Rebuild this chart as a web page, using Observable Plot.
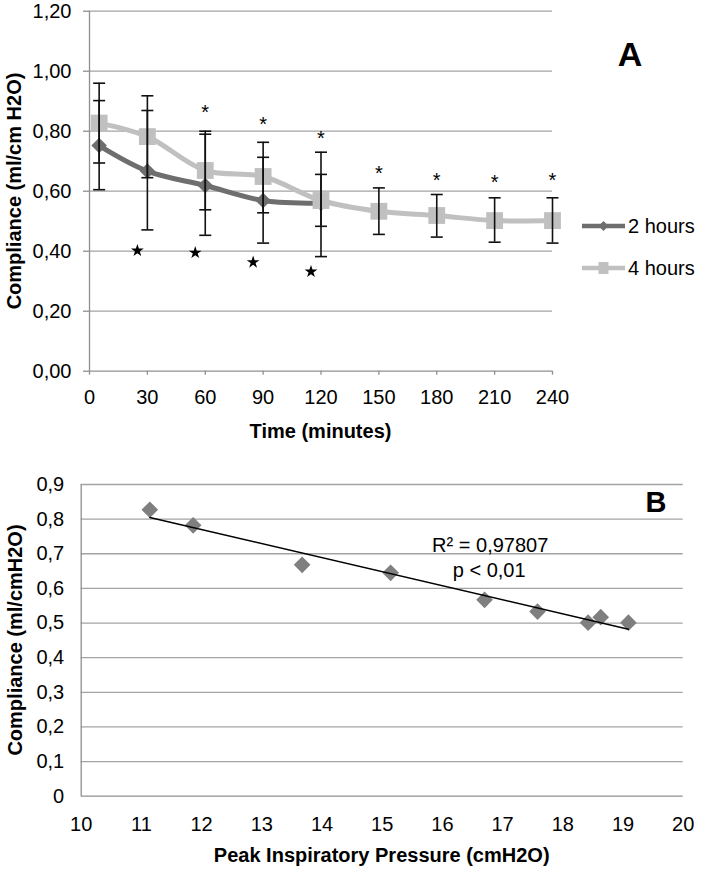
<!DOCTYPE html>
<html>
<head>
<meta charset="utf-8">
<script src="https://cdn.jsdelivr.net/npm/d3@7"></script>
<script src="https://cdn.jsdelivr.net/npm/@observablehq/plot@0.6"></script>
<style>
  body { margin: 0; background: #fff; }
  #wrap { position: relative; width: 702px; height: 871px; font-family: "Liberation Sans", Arial, sans-serif; color: #000; overflow: hidden; }
  #wrap > svg { position: absolute; left: 0; }
  .abs { position: absolute; white-space: nowrap; line-height: 1; }
  .ttl { font-weight: bold; font-size: 20px; }
</style>
</head>
<body>
<div id="wrap"></div>
<script>
// ---------- Panel A data ----------
const times = [5, 30, 60, 90, 120, 150, 180, 210, 240];
const twoHoursMean = [0.752, 0.667, 0.619, 0.569, 0.560];
const twoHoursHigh = [0.902, 0.869, 0.790, 0.713, 0.656];
const twoHoursLow  = [0.605, 0.471, 0.453, 0.427, 0.382];
const fourHoursMean = [0.827, 0.782, 0.669, 0.649, 0.569, 0.533, 0.519, 0.502, 0.502];
const fourHoursHigh = [0.960, 0.918, 0.800, 0.763, 0.730, 0.611, 0.589, 0.578, 0.578];
const fourHoursLow  = [0.694, 0.645, 0.538, 0.528, 0.483, 0.456, 0.447, 0.430, 0.427];
const sigTimes = [60, 90, 120, 150, 180, 210, 240];
const sigMarkY = [0.880, 0.838, 0.793, 0.674, 0.652, 0.647, 0.652];
const starTimes = [30, 60, 90, 120];
const starMarkY = [0.402, 0.395, 0.363, 0.332];
const xTicksA = [0, 30, 60, 90, 120, 150, 180, 210, 240];
const yTicksA = [0, 0.2, 0.4, 0.6, 0.8, 1.0, 1.2];
const seriesNames = ["2 hours", "4 hours"];

// ---------- Panel B data ----------
const pipB = [11.14, 11.86, 13.67, 15.14, 16.70, 17.58, 18.63, 18.42, 19.09];
const complianceB = [0.827, 0.782, 0.668, 0.645, 0.567, 0.533, 0.517, 0.501, 0.501];
const xTicksB = [10, 11, 12, 13, 14, 15, 16, 17, 18, 19, 20];
const yTicksB = [0, 0.1, 0.2, 0.3, 0.4, 0.5, 0.6, 0.7, 0.8, 0.9];
const r2Text = "R² = 0,97807";
const pText = "p < 0,01";

// ---------- styling ----------
const FONT = '"Liberation Sans", Arial, sans-serif';
const GRID = "#a3a3a3";
const AXIS = "#8f8f8f";
const DARK = "#6e6e6e";
const LIGHT = "#c0c0c0";
const DIAMOND_B = "#7f7f7f";

const twoRows = twoHoursMean.map((v, i) => ({t: times[i], v, hi: twoHoursHigh[i], lo: twoHoursLow[i]}));
const fourRows = fourHoursMean.map((v, i) => ({t: times[i], v, hi: fourHoursHigh[i], lo: fourHoursLow[i]}));
const errRows = [...twoRows, ...fourRows];
const sigRows = sigTimes.map((t, i) => ({t, y: sigMarkY[i]}));
const starRows = starTimes.map((t, i) => ({t, y: starMarkY[i]}));
const bRows = pipB.map((x, i) => ({x, y: complianceB[i]}));

const capSymbol = {
  draw(ctx, size) {
    const w = Math.sqrt(size / Math.PI);
    ctx.moveTo(-w, 0);
    ctx.lineTo(w, 0);
  }
};

const fmtA = d => d.toFixed(2).replace(".", ",");
const fmtB = d => d === 0 ? "0" : d.toFixed(1).replace(".", ",");

const plotA = Plot.plot({
  width: 702,
  height: 440,
  marginLeft: 89,
  marginRight: 150,
  marginTop: 10.7,
  marginBottom: 69.3,
  style: {fontFamily: FONT, fontSize: "20px", color: "#000", background: "transparent"},
  x: {domain: [0, 240]},
  y: {domain: [0, 1.2]},
  marks: [
    Plot.ruleY(yTicksA.filter(d => d > 0), {stroke: GRID, strokeWidth: 1.3}),
    Plot.axisY({ticks: yTicksA, tickFormat: fmtA, tickSize: 6, tickPadding: 12, stroke: AXIS, fill: "#000", label: null, strokeWidth: 1.3}),
    Plot.axisX({ticks: xTicksA, tickFormat: d => String(d), tickSize: 4, tickPadding: 15, stroke: AXIS, fill: "#000", label: null, strokeWidth: 1.3}),
    Plot.ruleX([0], {stroke: AXIS, strokeWidth: 1.3}),
    Plot.ruleY([0], {stroke: AXIS, strokeWidth: 1.3}),
    Plot.line(twoRows, {x: "t", y: "v", stroke: DARK, strokeWidth: 5, curve: "catmull-rom", strokeLinejoin: "round"}),
    Plot.dot(twoRows, {x: "t", y: "v", symbol: "diamond2", r: 7, fill: DARK, stroke: "none"}),
    Plot.line(fourRows, {x: "t", y: "v", stroke: LIGHT, strokeWidth: 5, curve: "catmull-rom", strokeLinejoin: "round"}),
    Plot.dot(fourRows, {x: "t", y: "v", symbol: "square", r: 9.5, fill: LIGHT, stroke: "none"}),
    Plot.ruleX(errRows, {x: "t", y1: "lo", y2: "hi", stroke: "#111", strokeWidth: 1.6}),
    Plot.dot(errRows, {x: "t", y: "hi", symbol: capSymbol, r: 6, stroke: "#111", strokeWidth: 1.6, fill: "none"}),
    Plot.dot(errRows, {x: "t", y: "lo", symbol: capSymbol, r: 6, stroke: "#111", strokeWidth: 1.6, fill: "none"}),
    Plot.text(sigRows, {x: "t", y: "y", text: () => "*", fontSize: 20, dy: 5, fill: "#000"}),
    Plot.dot(starRows, {x: "t", y: "y", symbol: "star", r: 4, fill: "#000", stroke: "none", dx: -10})
  ]
});

const plotB = Plot.plot({
  width: 702,
  height: 431,
  marginLeft: 80.7,
  marginRight: 19.3,
  marginTop: 44,
  marginBottom: 75.3,
  style: {fontFamily: FONT, fontSize: "20px", color: "#000", background: "transparent"},
  x: {domain: [10, 20]},
  y: {domain: [0, 0.9]},
  marks: [
    Plot.ruleY(yTicksB.filter(d => d > 0), {stroke: GRID, strokeWidth: 1.3}),
    Plot.axisY({ticks: yTicksB, tickFormat: fmtB, tickSize: 0, tickPadding: 17, fill: "#000", label: null}),
    Plot.axisX({ticks: xTicksB, tickFormat: d => String(d), tickSize: 0, tickPadding: 21, fill: "#000", label: null}),
    Plot.ruleX([10], {stroke: AXIS, strokeWidth: 1.3}),
    Plot.ruleY([0], {stroke: AXIS, strokeWidth: 1.3}),
    Plot.dot(bRows, {x: "x", y: "y", symbol: "diamond2", r: 7.5, fill: DIAMOND_B, stroke: "none"}),
    Plot.linearRegressionY(bRows, {x: "x", y: "y", stroke: "#000", strokeWidth: 1.5, ci: 0}),
    Plot.text([r2Text], {text: d => d, frameAnchor: "top-left", dx: 409, dy: 61, textAnchor: "middle", lineAnchor: "middle", fontSize: 20, fill: "#000"}),
    Plot.text([pText], {text: d => d, frameAnchor: "top-left", dx: 408, dy: 86, textAnchor: "middle", lineAnchor: "middle", fontSize: 20, fill: "#000"})
  ]
});

const wrap = document.getElementById("wrap");
plotA.style.top = "0px";
plotB.style.top = "440px";
wrap.appendChild(plotA);
wrap.appendChild(plotB);

function addText(txt, cx, cy, cls, extra) {
  const d = document.createElement("div");
  d.className = "abs " + cls;
  d.textContent = txt;
  d.style.left = cx + "px";
  d.style.top = cy + "px";
  d.style.transform = "translate(-50%, -50%)" + (extra || "");
  wrap.appendChild(d);
  return d;
}

// axis titles
addText("Time (minutes)", 320.5, 431, "ttl");
addText("Compliance (ml/cm H2O)", 14, 190.7, "ttl", " rotate(-90deg)");
addText("Peak Inspiratory Pressure (cmH2O)", 381.7, 855, "ttl");
addText("Compliance (ml/cmH2O)", 15, 640, "ttl", " rotate(-90deg)");

// panel letters
const la = addText("A", 630, 54, "ttl"); la.style.fontSize = "34px";
const lb = addText("B", 656, 502, "ttl"); lb.style.fontSize = "29px";

// legend for panel A
const ns = "http://www.w3.org/2000/svg";
const leg = document.createElementNS(ns, "svg");
leg.setAttribute("width", "120");
leg.setAttribute("height", "80");
leg.style.position = "absolute";
leg.style.left = "580px";
leg.style.top = "205px";
const legItems = [
  {name: seriesNames[0], color: DARK, sym: "diamond"},
  {name: seriesNames[1], color: LIGHT, sym: "square"}
];
legItems.forEach((it, i) => {
  const cy = 21 + i * 42;
  const ln = document.createElementNS(ns, "line");
  ln.setAttribute("x1", 2); ln.setAttribute("x2", 45);
  ln.setAttribute("y1", cy); ln.setAttribute("y2", cy);
  ln.setAttribute("stroke", it.color); ln.setAttribute("stroke-width", 4.5);
  leg.appendChild(ln);
  const m = document.createElementNS(ns, "path");
  if (it.sym === "diamond") {
    m.setAttribute("d", `M23.5,${cy - 5}L28.5,${cy}L23.5,${cy + 5}L18.5,${cy}Z`);
  } else {
    m.setAttribute("d", `M18.5,${cy - 6}h10v12h-10Z`);
  }
  m.setAttribute("fill", it.color);
  leg.appendChild(m);
  const t = document.createElementNS(ns, "text");
  t.setAttribute("x", 48);
  t.setAttribute("y", cy + 7);
  t.setAttribute("font-size", "20");
  t.setAttribute("font-family", FONT);
  t.setAttribute("fill", "#000");
  t.textContent = it.name;
  leg.appendChild(t);
});
wrap.appendChild(leg);
</script>
</body>
</html>
